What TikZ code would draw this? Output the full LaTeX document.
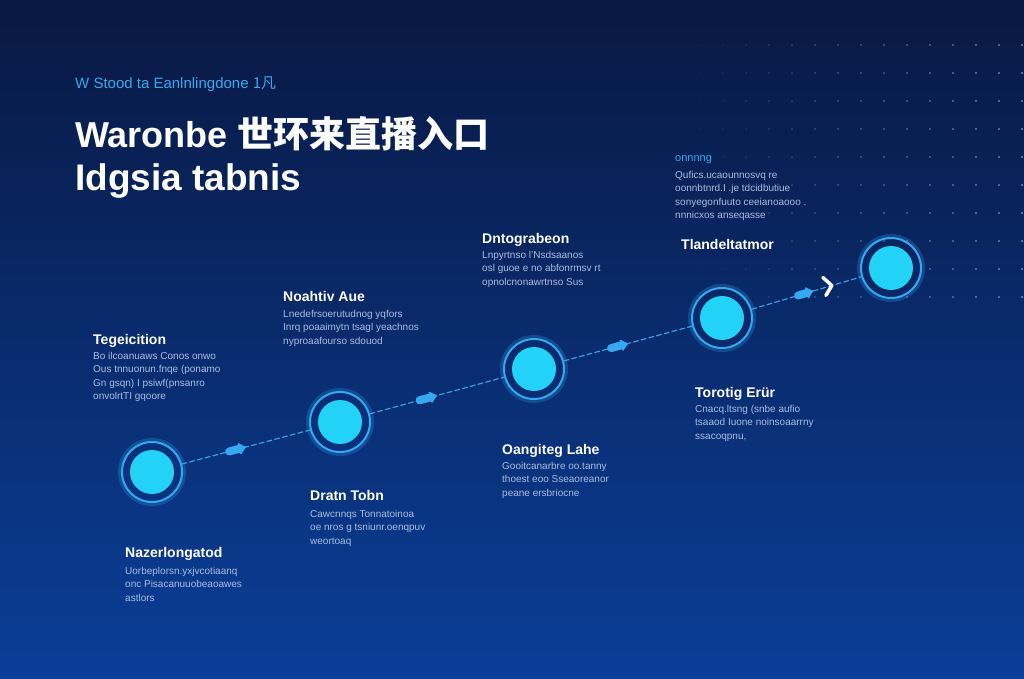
\documentclass[tikz,border=0pt]{standalone}
\usepackage{fontspec}
\setmainfont{Liberation Sans}
\newfontfamily\cjk{Noto Sans CJK SC}
\usetikzlibrary{arrows.meta}
\usetikzlibrary{calc}
\definecolor{bgtop}{RGB}{9,24,66}
\definecolor{bgbot}{RGB}{10,62,152}
\definecolor{ringblue}{RGB}{53,168,240}
\definecolor{dotcyan}{RGB}{34,211,247}
\definecolor{linkblue}{RGB}{58,158,224}
\definecolor{bodytext}{RGB}{169,189,224}
\definecolor{subcyan}{RGB}{56,168,238}
\tikzset{
  stage/.style={circle, draw=ringblue, line width=2pt, minimum size=60pt, inner sep=0pt,
    path picture={\fill[dotcyan] (path picture bounding box.center) circle (22pt);}},
  glow/.style={draw=ringblue, line width=4pt, opacity=0.25},
  link/.style={draw=linkblue, line width=1.2pt, dash pattern=on 5pt off 3pt},
  blob/.style={draw=ringblue, line width=8pt, line cap=round, -{Latex[round,length=8pt,width=15pt]}},
  chevron/.style={draw=white, line width=3.5pt, line cap=round, line join=round},
  heading/.style={font=\bfseries\fontsize{14}{16}\selectfont, text=white, anchor=base west, inner sep=0pt},
  body/.style={font=\fontsize{10}{13.5}\selectfont, text=bodytext, align=left, anchor=north west, inner sep=0pt}
}
\begin{document}
\begin{tikzpicture}[line cap=round,line join=round,x=1pt,y=-1pt]
\shade[top color=bgtop, bottom color=bgbot] (0,0) rectangle (1024,678);
\useasboundingbox (0,0) rectangle (1024,678);
% dot grid, upper right
\foreach \i in {0,...,14}
  \foreach \j in {0,...,9}
    \fill[white, opacity={0.45*(1-\i/15)}] (1022-23*\i,45+28*\j) circle (1.1pt);

% title block
\node[font=\fontsize{15}{17}\selectfont, text=subcyan, anchor=base west, inner sep=0pt] (kicker) at (75,88) {W Stood ta Eanlnlingdone {\cjk 1凡}};
\node[font=\bfseries\fontsize{36}{40}\selectfont, text=white, anchor=base west, inner sep=0pt] (title) at (75,147) {Waronbe {\cjk 世环来直播入口}};
\node[font=\bfseries\fontsize{37}{40}\selectfont, text=white, anchor=base west, inner sep=0pt] (subtitle) at (75,190) {Idgsia tabnis};

% stages
\node[stage] (s1) at (152,472) {};
\node[stage] (s2) at (340,422) {};
\node[stage] (s3) at (534,369) {};
\node[stage] (s4) at (722,318) {};
\node[stage] (s5) at (891,268) {};
\foreach \s in {s1,s2,s3,s4,s5}
  \draw[glow] (\s) circle (32pt);

\draw[link] (s1) -- (s2);
\draw[link] (s2) -- (s3);
\draw[link] (s3) -- (s4);
\draw[link] (s4) -- (s5);

\draw[blob] ($(s1)!0.41!(s2)$) -- ($(s1)!0.50!(s2)$);
\draw[blob] ($(s2)!0.41!(s3)$) -- ($(s2)!0.50!(s3)$);
\draw[blob] ($(s3)!0.41!(s4)$) -- ($(s3)!0.50!(s4)$);
\draw[blob] ($(s4)!0.45!(s5)$) -- ($(s4)!0.54!(s5)$);
\coordinate (tip) at ($(s4)!0.65!(s5)$);
\draw[chevron] ([shift={(-9,-8)}]tip) -- (tip) -- ([shift={(-6,10)}]tip);

% labels
\node[heading] (h1) at (93,344) {Tegeicition};
\node[body] (b1) at (93,352) {Bo ilcoanuaws Conos onwo\\Ous tnnuonun.fnqe (ponamo\\Gn gsqn) I psiwf(pnsanro\\onvolrtTI gqoore};

\node[heading] (h2) at (283,301) {Noahtiv Aue};
\node[body] (b2) at (283,310) {Lnedefrsoerutudnog yqfors\\Inrq poaaimytn tsagl yeachnos\\nyproaafourso sdouod};

\node[heading] (h3) at (482,243) {Dntograbeon};
\node[body] (b3) at (482,251) {Lnpyrtnso l'Nsdsaanos\\osl guoe e no abfonrmsv rt\\opnolcnonawrtnso Sus};

\node[font=\fontsize{11}{13}\selectfont, text=subcyan, anchor=base west, inner sep=0pt] (h4) at (675,161) {onnnng};
\node[body] (b4) at (675,171) {Qufics.ucaounnosvq re\\oonnbtnrd.I .je tdcidbutiue\\sonyegonfuuto ceeianoaooo .\\nnnicxos anseqasse};

\node[heading] (h5) at (681,249) {Tlandeltatmor};

\node[heading] (h6) at (695,397) {Torotig Erür};
\node[body] (b6) at (695,405) {Cnacq.ltsng (snbe aufio\\tsaaod Iuone noinsoaarrny\\ssacoqpnu,};

\node[heading] (h7) at (502,454) {Oangiteg Lahe};
\node[body] (b7) at (502,462) {Gooitcanarbre oo.tanny\\thoest eoo Sseaoreanor\\peane ersbriocne};

\node[heading] (h8) at (310,500) {Dratn Tobn};
\node[body] (b8) at (310,510) {Cawcnnqs Tonnatoinoa\\oe nros g tsniunr.oenqpuv\\weortoaq};

\node[heading] (h9) at (125,557) {Nazerlongatod};
\node[body] (b9) at (125,567) {Uorbeplorsn.yxjvcotiaanq\\onc Pisacanuuobeaoawes\\astlors};
\end{tikzpicture}
\end{document}
